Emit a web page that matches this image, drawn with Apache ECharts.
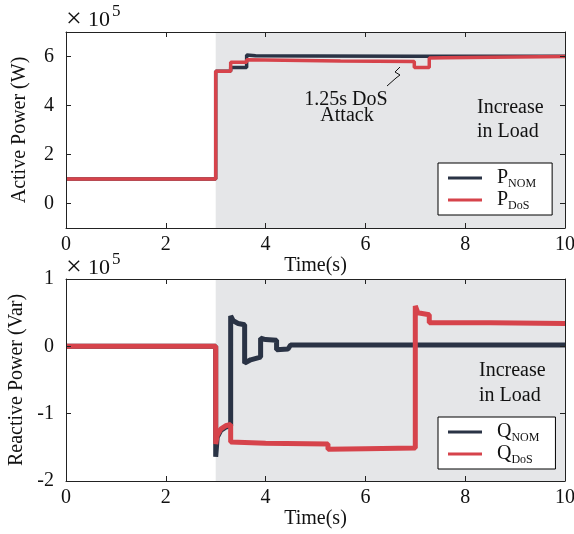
<!DOCTYPE html>
<html>
<head>
<meta charset="utf-8">
<script src="https://cdn.jsdelivr.net/npm/echarts@6/dist/echarts.min.js"></script>
<style>html,body{margin:0;padding:0;background:#fff}#c{width:574px;height:534px}</style>
</head>
<body>
<div id="c"></div>
<script>
// ---- data (values in units of 1e5) ----
const timeTicks = [0, 2, 4, 6, 8, 10];
const pTicks = [0, 2, 4, 6];
const qTicks = [-2, -1, 0, 1];

const pNomT = [0, 3.0, 3.0, 3.3, 3.3, 3.62, 3.62, 3.8, 5.0, 7.0, 10];
const pNomV = [1.0, 1.0, 5.4, 5.4, 5.55, 5.55, 6.06, 6.03, 6.02, 6.01, 6.01];

const pDosT = [0, 3.0, 3.0, 3.3, 3.3, 3.62, 3.62, 5.5, 6.98, 6.98, 7.28, 7.28, 7.58, 7.58, 10];
const pDosV = [1.0, 1.0, 5.4, 5.4, 5.77, 5.77, 5.87, 5.82, 5.8, 5.55, 5.55, 5.94, 5.95, 6.0, 6.0];

const qNomT = [0, 3.0, 3.0, 3.03, 3.1, 3.2, 3.3, 3.3, 3.35, 3.45, 3.58, 3.58, 3.7, 3.9, 3.9, 4.0, 4.22, 4.22, 4.45, 4.5, 5.0, 10];
const qNomV = [0, 0, -1.64, -1.35, -1.25, -1.2, -1.18, 0.45, 0.38, 0.34, 0.32, -0.25, -0.2, -0.16, 0.12, 0.1, 0.09, -0.05, -0.04, 0.02, 0.02, 0.02];

const qDosT = [0, 3.0, 3.0, 3.03, 3.1, 3.2, 3.3, 3.3, 4.0, 5.25, 5.25, 6.0, 7.0, 7.0, 7.05, 7.28, 7.28, 8.5, 10];
const qDosV = [0, 0, -1.45, -1.32, -1.23, -1.18, -1.16, -1.42, -1.44, -1.45, -1.53, -1.52, -1.51, 0.6, 0.5, 0.47, 0.35, 0.35, 0.34];

const attackStart = 3;
const attackEnd = 10;

const NAVY = '#2a3345';
const RED = '#d6434b';
const FONT = 'Liberation Serif';

function zip(t, v) { return t.map((x, i) => [x, v[i]]); }

const axisCommon = {
  z: 5,
  axisLine: { show: true, onZero: false, lineStyle: { color: '#222', width: 1 } },
  axisTick: { show: true, inside: true, length: 5, lineStyle: { color: '#222' } },
  splitLine: { show: false },
  axisLabel: { fontFamily: FONT, fontSize: 20, color: '#111' }
};

function xAx(grid, pos, show) {
  return Object.assign({}, axisCommon, {
    type: 'value', gridIndex: grid, position: pos, min: 0, max: 10, interval: 2,
    axisLabel: Object.assign({}, axisCommon.axisLabel, { show: show, margin: 7, customValues: timeTicks }),
    axisTick: Object.assign({}, axisCommon.axisTick, { customValues: timeTicks }),
    name: show ? 'Time(s)' : '', nameLocation: 'middle', nameGap: 26,
    nameTextStyle: { fontFamily: FONT, fontSize: 20, color: '#111' }
  });
}
function yAx(grid, pos, show, min, max, ticks, name) {
  return Object.assign({}, axisCommon, {
    type: 'value', gridIndex: grid, position: pos, min: min, max: max,
    axisTick: Object.assign({}, axisCommon.axisTick, { customValues: ticks }),
    axisLabel: Object.assign({}, axisCommon.axisLabel, { show: show, margin: 12, customValues: ticks }),
    name: show ? name : '', nameLocation: 'middle', nameGap: 36,
    nameTextStyle: { fontFamily: FONT, fontSize: 20, color: '#111' }
  });
}

function legendFmt(name) { return '{m|' + name[0] + '}{s|' + name.slice(1) + '}'; }
function legendCfg(top, names) {
  return {
    left: 438, top: top, orient: 'vertical', data: names,
    icon: 'rect', itemWidth: 34, itemHeight: 3, itemGap: -2,
    padding: [3, 16, 3, 10],
    borderColor: '#000', borderWidth: 1, borderRadius: 0, backgroundColor: '#fff',
    formatter: legendFmt,
    textStyle: {
      color: '#111',
      rich: {
        m: { fontFamily: FONT, fontSize: 20, lineHeight: 20, color: '#111', padding: [0, 0, 0, 10] },
        s: { fontFamily: FONT, fontSize: 12, lineHeight: 12, color: '#111', padding: [12, 0, 0, 0] }
      }
    }
  };
}

function lineSeries(name, t, v, color, grid, width) {
  return {
    name: name, type: 'line', xAxisIndex: grid * 2, yAxisIndex: grid * 2,
    data: zip(t, v), symbol: 'none', showSymbol: false, z: 3,
    lineStyle: { color: color, width: width }, itemStyle: { color: color }
  };
}
function bgSeries(grid) {
  return {
    name: 'bg' + grid, type: 'line', xAxisIndex: grid * 2, yAxisIndex: grid * 2,
    data: [], z: 1, silent: true,
    markArea: { silent: true, itemStyle: { color: '#e5e6e8', opacity: 1 },
      data: [[{ xAxis: attackStart }, { xAxis: attackEnd }]] }
  };
}

const chart = echarts.init(document.getElementById('c'), null, { renderer: 'canvas' });
chart.setOption({
  animation: false,
  backgroundColor: '#fff',
  grid: [
    { left: 66, right: 9, top: 32, height: 196, outerBoundsMode: 'none', containLabel: false },
    { left: 66, right: 9, top: 279, height: 202, outerBoundsMode: 'none', containLabel: false }
  ],
  xAxis: [xAx(0, 'bottom', true), xAx(0, 'top', false), xAx(1, 'bottom', true), xAx(1, 'top', false)],
  yAxis: [
    yAx(0, 'left', true, -1, 7, pTicks, 'Active Power (W)'),
    yAx(0, 'right', false, -1, 7, pTicks, ''),
    yAx(1, 'left', true, -2, 1, qTicks, 'Reactive Power (Var)'),
    yAx(1, 'right', false, -2, 1, qTicks, '')
  ],
  legend: [legendCfg(163, ['PNOM', 'PDoS']), legendCfg(417, ['QNOM', 'QDoS'])],
  series: [
    bgSeries(0), bgSeries(1),
    lineSeries('PNOM', pNomT, pNomV, NAVY, 0, 3.5),
    lineSeries('PDoS', pDosT, pDosV, RED, 0, 3.5),
    lineSeries('QNOM', qNomT, qNomV, NAVY, 1, 5),
    lineSeries('QDoS', qDosT, qDosV, RED, 1, 5)
  ],
  graphic: [
    { type: 'text', x: 66, y: 20, z: 10, style: { text: '×', font: '28px "Liberation Serif"', fill: '#111', align: 'left', verticalAlign: 'middle' } },
    { type: 'text', left: 88, top: 9, z: 10, style: { text: '10', font: '22px "Liberation Serif"', fill: '#111' } },
    { type: 'text', left: 112, top: 3, z: 10, style: { text: '5', font: '17px "Liberation Serif"', fill: '#111' } },
    { type: 'text', x: 66, y: 268, z: 10, style: { text: '×', font: '28px "Liberation Serif"', fill: '#111', align: 'left', verticalAlign: 'middle' } },
    { type: 'text', left: 88, top: 257, z: 10, style: { text: '10', font: '22px "Liberation Serif"', fill: '#111' } },
    { type: 'text', left: 112, top: 251, z: 10, style: { text: '5', font: '17px "Liberation Serif"', fill: '#111' } },
    { type: 'text', x: 346, y: 100, z: 10, style: { text: '1.25s DoS', font: '20px "Liberation Serif"', fill: '#111', align: 'center', verticalAlign: 'middle' } },
    { type: 'text', x: 347, y: 116, z: 10, style: { text: 'Attack', font: '20px "Liberation Serif"', fill: '#111', align: 'center', verticalAlign: 'middle' } },
    { type: 'polyline', z: 10, shape: { points: [[387, 86], [396, 78], [400, 75], [395, 72], [400, 67]] }, style: { stroke: '#111', lineWidth: 1, fill: null } },
    { type: 'text', x: 477, y: 108, z: 10, style: { text: 'Increase', font: '20px "Liberation Serif"', fill: '#111', align: 'left', verticalAlign: 'middle' } },
    { type: 'text', x: 477, y: 132, z: 10, style: { text: 'in Load', font: '20px "Liberation Serif"', fill: '#111', align: 'left', verticalAlign: 'middle' } },
    { type: 'text', x: 479, y: 371, z: 10, style: { text: 'Increase', font: '20px "Liberation Serif"', fill: '#111', align: 'left', verticalAlign: 'middle' } },
    { type: 'text', x: 479, y: 396, z: 10, style: { text: 'in Load', font: '20px "Liberation Serif"', fill: '#111', align: 'left', verticalAlign: 'middle' } }
  ]
});
</script>
</body>
</html>
